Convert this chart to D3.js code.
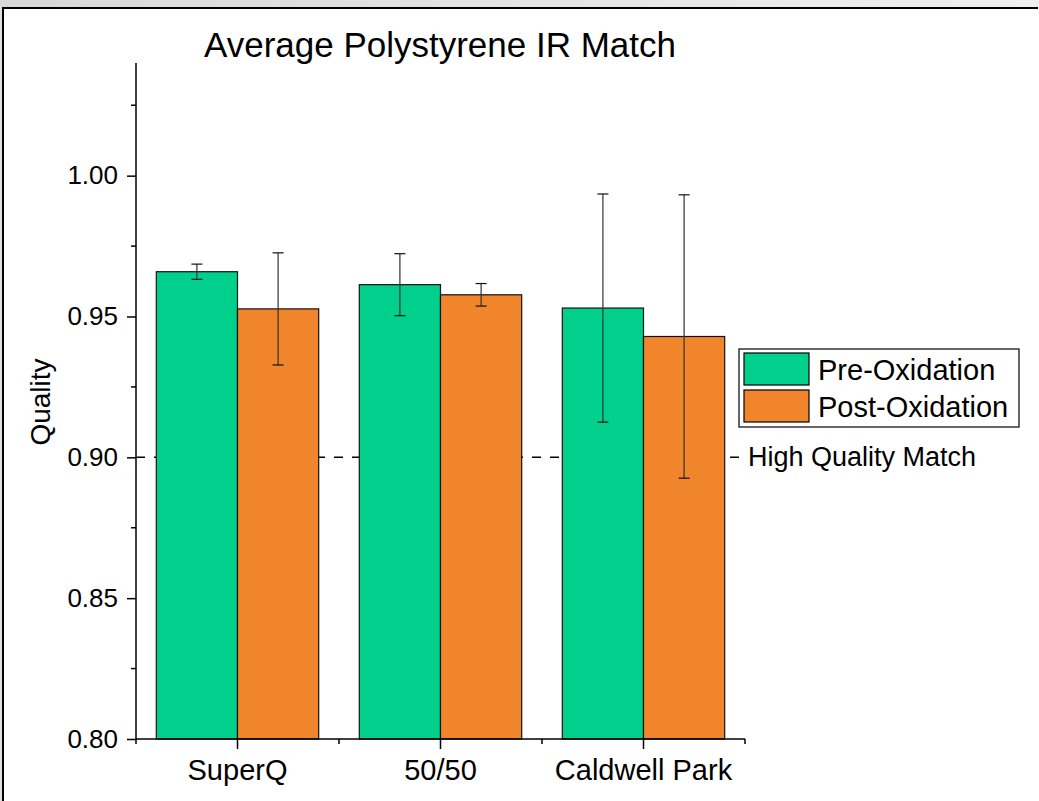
<!DOCTYPE html>
<html>
<head>
<meta charset="utf-8">
<script src="https://cdn.jsdelivr.net/npm/d3@7"></script>
<style>
  body { margin: 0; background: #fff; }
  text { font-family: "Liberation Sans", Arial, sans-serif; fill: #000; }
</style>
</head>
<body>
<div id="chart"></div>
<script>
var categories = ["SuperQ", "50/50", "Caldwell Park"];
var seriesNames = ["Pre-Oxidation", "Post-Oxidation"];
var preValues = [0.9659, 0.9613, 0.9530];
var preErrors = [0.0027, 0.0110, 0.0405];
var postValues = [0.9527, 0.9577, 0.9429];
var postErrors = [0.0199, 0.0040, 0.0503];
var yTicks = [0.80, 0.85, 0.90, 0.95, 1.00];
var yMinorTicks = [0.825, 0.875, 0.925, 0.975, 1.025];
var thresholdValue = 0.90;
var thresholdLabel = "High Quality Match";

var colors = ["#00d08c", "#f0852b"];

var svgWidth = 1039, svgHeight = 801;
var svg = d3.select("#chart").append("svg")
  .attr("width", svgWidth)
  .attr("height", svgHeight);

// grey window strip + frame
var grad = svg.append("defs").append("linearGradient")
  .attr("id", "strip").attr("x1", 0).attr("x2", 1).attr("y1", 0).attr("y2", 0);
grad.append("stop").attr("offset", "0%").attr("stop-color", "#d8d8d8");
grad.append("stop").attr("offset", "100%").attr("stop-color", "#f0f0f0");
svg.append("rect").attr("x", 0).attr("y", 0).attr("width", svgWidth).attr("height", 7)
  .attr("fill", "url(#strip)");
svg.append("rect").attr("x", 0).attr("y", 7).attr("width", 2).attr("height", svgHeight - 7)
  .attr("fill", "#e0e0e0");
svg.append("line").attr("x1", 2).attr("x2", 1038).attr("y1", 8).attr("y2", 8)
  .attr("stroke", "#000").attr("stroke-width", 2);
svg.append("line").attr("x1", 3).attr("x2", 3).attr("y1", 7).attr("y2", svgHeight)
  .attr("stroke", "#000").attr("stroke-width", 2);

var plotLeft = 136, plotRight = 745, plotTop = 63, plotBottom = 739;

var x = d3.scaleBand().domain(categories).range([plotLeft, plotRight]).padding(0);
var inner = d3.scaleBand().domain(seriesNames).range([0, x.bandwidth()]).paddingOuter(0.25).paddingInner(0);
var y = d3.scaleLinear().domain([0.8, 1.04]).range([plotBottom, plotTop]);

var data = categories.map(function(c, i) {
  return [
    { cat: c, s: seriesNames[0], v: preValues[i], e: preErrors[i], col: colors[0] },
    { cat: c, s: seriesNames[1], v: postValues[i], e: postErrors[i], col: colors[1] }
  ];
});
var flat = [].concat.apply([], data);

// threshold dashed line (behind bars)
svg.append("line")
  .attr("x1", plotLeft).attr("x2", plotRight + 3)
  .attr("y1", y(thresholdValue)).attr("y2", y(thresholdValue))
  .attr("stroke", "#000").attr("stroke-width", 1.5)
  .attr("stroke-dasharray", "9,9");
svg.append("text")
  .attr("x", plotRight + 3).attr("y", y(thresholdValue) + 9)
  .attr("font-size", 27)
  .text(thresholdLabel);

// bars
svg.selectAll("rect.bar").data(flat).enter().append("rect")
  .attr("class", "bar")
  .attr("x", d => x(d.cat) + inner(d.s))
  .attr("y", d => y(d.v))
  .attr("width", inner.bandwidth())
  .attr("height", d => y(0.8) - y(d.v))
  .attr("fill", d => d.col)
  .attr("stroke", "#111")
  .attr("stroke-width", 1.2);

// error bars
var eb = svg.selectAll("g.err").data(flat).enter().append("g")
  .attr("class", "err")
  .attr("transform", d => `translate(${x(d.cat) + inner(d.s) + inner.bandwidth() / 2},0)`);
eb.append("line")
  .attr("y1", d => y(d.v + d.e)).attr("y2", d => y(d.v - d.e))
  .attr("stroke", "#333").attr("stroke-width", 1.2);
eb.append("line").attr("x1", -5.5).attr("x2", 5.5)
  .attr("y1", d => y(d.v + d.e)).attr("y2", d => y(d.v + d.e))
  .attr("stroke", "#111").attr("stroke-width", 1.2);
eb.append("line").attr("x1", -5.5).attr("x2", 5.5)
  .attr("y1", d => y(d.v - d.e)).attr("y2", d => y(d.v - d.e))
  .attr("stroke", "#111").attr("stroke-width", 1.2);

// y axis
var yAxis = svg.append("g")
  .attr("transform", `translate(${plotLeft},0)`)
  .call(d3.axisLeft(y).tickValues(yTicks).tickFormat(d3.format(".2f")).tickSize(9).tickPadding(9));
yAxis.select(".domain").attr("stroke", "#000").attr("stroke-width", 1.5)
  .attr("d", `M0,${plotTop}V${plotBottom}`);
yAxis.selectAll(".tick line").attr("stroke", "#000").attr("stroke-width", 1.5);
yAxis.selectAll(".tick text").attr("font-size", 26).attr("font-family", "Liberation Sans, Arial, sans-serif").attr("fill", "#000");
svg.append("g").selectAll("line").data(yMinorTicks).enter().append("line")
  .attr("x1", plotLeft - 5).attr("x2", plotLeft)
  .attr("y1", d => y(d)).attr("y2", d => y(d))
  .attr("stroke", "#000").attr("stroke-width", 1.5);

// x axis
var xAxis = svg.append("g")
  .attr("transform", `translate(0,${plotBottom})`)
  .call(d3.axisBottom(x).tickSize(10).tickPadding(10));
xAxis.select(".domain").attr("stroke", "#000").attr("stroke-width", 1.5)
  .attr("d", `M${plotLeft},0H${plotRight}`);
xAxis.selectAll(".tick line").attr("stroke", "#000").attr("stroke-width", 1.5);
xAxis.selectAll(".tick text").attr("font-size", 29).attr("font-family", "Liberation Sans, Arial, sans-serif").attr("fill", "#000");
var xMinor = categories.map(c => x(c)).concat([x(categories[categories.length - 1]) + x.bandwidth()]);
svg.append("g").selectAll("line").data(xMinor).enter().append("line")
  .attr("x1", d => d).attr("x2", d => d)
  .attr("y1", plotBottom).attr("y2", plotBottom + 5)
  .attr("stroke", "#000").attr("stroke-width", 1.5);

// title & axis label
svg.append("text")
  .attr("x", 440).attr("y", 57)
  .attr("text-anchor", "middle")
  .attr("font-size", 35)
  .text("Average Polystyrene IR Match");
svg.append("text")
  .attr("transform", `translate(50,402) rotate(-90)`)
  .attr("text-anchor", "middle")
  .attr("font-size", 28)
  .text("Quality");

// legend
var legend = svg.append("g").attr("transform", "translate(739,349)");
legend.append("rect").attr("width", 280).attr("height", 78)
  .attr("fill", "#fff").attr("stroke", "#000").attr("stroke-width", 1.2);
var items = legend.selectAll("g.item").data(seriesNames).enter().append("g")
  .attr("transform", (d, i) => `translate(5,${4 + i * 37})`);
items.append("rect").attr("width", 65).attr("height", 32)
  .attr("fill", (d, i) => colors[i]).attr("stroke", "#000").attr("stroke-width", 1.2);
items.append("text").attr("x", 74).attr("y", 27)
  .attr("font-size", 29)
  .text(d => d);
</script>
</body>
</html>
